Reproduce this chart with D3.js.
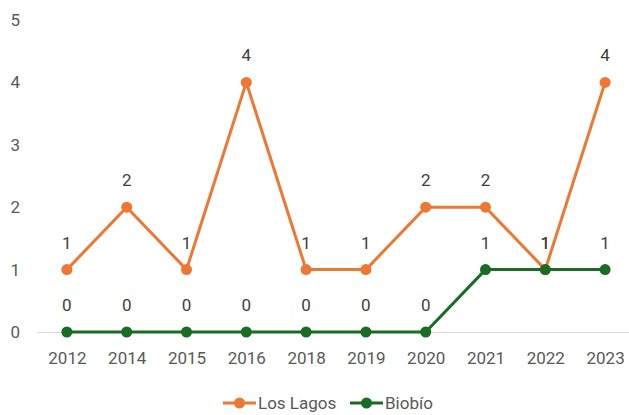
<!DOCTYPE html>
<html>
<head>
<meta charset="utf-8">
<script src="https://cdn.jsdelivr.net/npm/d3@7"></script>
<style>
  body { margin: 0; background: #fff; }
  svg text { font-family: Roboto, "Noto Sans", sans-serif; }
</style>
</head>
<body>
<svg id="chart" width="629" height="415"></svg>
<script>
// data
var years = ['2012', '2014', '2015', '2016', '2018', '2019', '2020', '2021', '2022', '2023'];
var losLagos = [1, 2, 1, 4, 1, 1, 2, 2, 1, 4];
var biobio = [0, 0, 0, 0, 0, 0, 0, 1, 1, 1];
var yTicks = [0, 1, 2, 3, 4, 5];
var seriesNames = ['Los Lagos', 'Biobío'];
var seriesColors = ['#EE7733', '#1A6B24'];

var svg = d3.select('#chart');

var x = d3.scalePoint().domain(years).range([37, 635]).padding(0.5);
var y = d3.scaleLinear().domain([0, 5]).range([332, 20]);

// y tick labels (no axis line, no grid)
svg.append('g')
    .selectAll('text')
    .data(yTicks)
    .enter().append('text')
    .attr('x', 20)
    .attr('y', function(d) { return y(d); })
    .attr('dy', '0.35em')
    .attr('text-anchor', 'end')
    .attr('fill', '#595959')
    .style('font-size', '17px')
    .text(function(d) { return d; });

// category axis
var xAxis = svg.append('g')
    .attr('transform', 'translate(0,' + y(0) + ')')
    .call(d3.axisBottom(x).tickSize(0).tickPadding(20));
xAxis.select('.domain').attr('stroke', '#d9d9d9').attr('stroke-width', 1.2);
xAxis.selectAll('text')
    .attr('fill', '#595959')
    .style('font-size', '17px')
    .style('font-family', 'Roboto, sans-serif');

var series = [losLagos, biobio];
var line = d3.line()
    .x(function(d, i) { return x(years[i]); })
    .y(function(d) { return y(d); });

series.forEach(function(vals, s) {
    svg.append('path')
        .attr('d', line(vals))
        .attr('fill', 'none')
        .attr('stroke', seriesColors[s])
        .attr('stroke-width', 3)
        .attr('stroke-linejoin', 'round');

    svg.append('g')
        .selectAll('circle')
        .data(vals)
        .enter().append('circle')
        .attr('cx', function(d, i) { return x(years[i]); })
        .attr('cy', function(d) { return y(d); })
        .attr('r', 5.5)
        .attr('fill', seriesColors[s]);
});

// data labels
series.forEach(function(vals, s) {
    svg.append('g')
        .selectAll('text')
        .data(vals)
        .enter().append('text')
        .attr('x', function(d, i) { return x(years[i]); })
        .attr('y', function(d) { return y(d) - 27; })
        .attr('dy', '0.35em')
        .attr('text-anchor', 'middle')
        .attr('fill', '#404040')
        .style('font-size', '17px')
        .text(function(d) { return d; });
});

// legend
var legend = svg.append('g').attr('transform', 'translate(223,403)');
var legendX = [0, 127];
seriesNames.forEach(function(name, s) {
    var g = legend.append('g').attr('transform', 'translate(' + legendX[s] + ',0)');
    g.append('line')
        .attr('x1', 0).attr('x2', 33)
        .attr('stroke', seriesColors[s])
        .attr('stroke-width', 3);
    g.append('circle')
        .attr('cx', 16.5).attr('r', 5.5)
        .attr('fill', seriesColors[s]);
    g.append('text')
        .attr('x', 35)
        .attr('dy', '0.35em')
        .attr('fill', '#595959')
        .style('font-size', '17px')
        .text(name);
});
</script>
</body>
</html>
